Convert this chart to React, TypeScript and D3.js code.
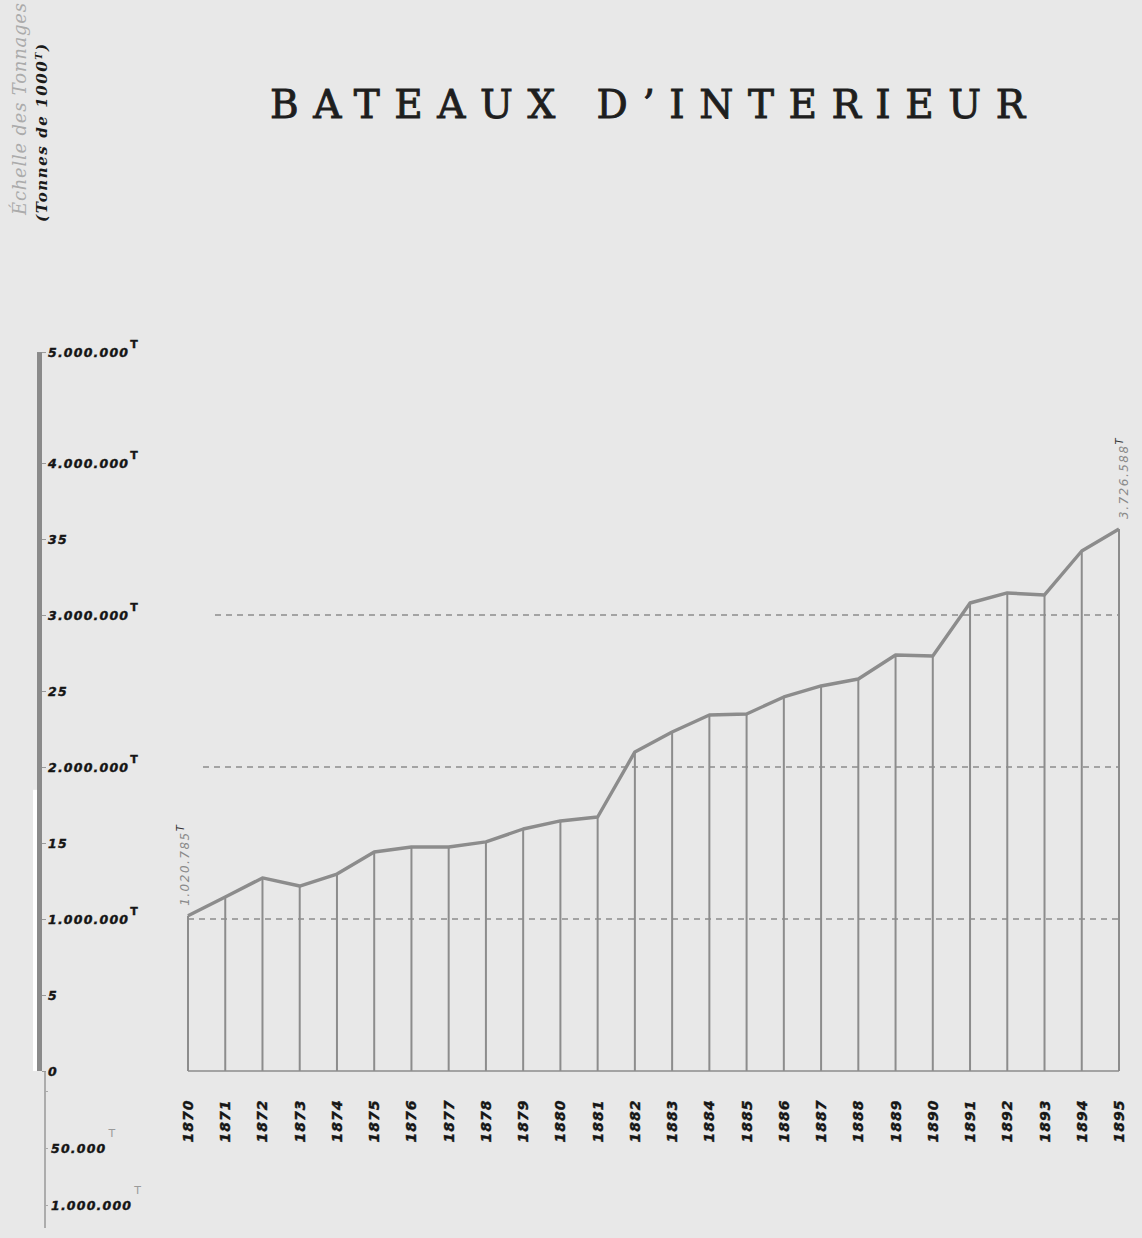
import React, { useEffect, useRef } from "react";
import * as d3 from "d3";

// Tonnage of inland boats (tonnes)
const years = [
  "1870", "1871", "1872", "1873", "1874", "1875", "1876", "1877", "1878",
  "1879", "1880", "1881", "1882", "1883", "1884", "1885", "1886", "1887",
  "1888", "1889", "1890", "1891", "1892", "1893", "1894", "1895",
];
const tonnage = [
  1020785, 1145000, 1270000, 1217000, 1296000, 1441000, 1474000, 1474000,
  1507000, 1592000, 1645000, 1671000, 2099000, 2230000, 2342000, 2349000,
  2461000, 2533000, 2579000, 2737000, 2730000, 3079000, 3145000, 3132000,
  3421000, 3566000,
];

// left scale ticks (the top one sits where the plate drew it)
const tickValues = [0, 500000, 1000000, 1500000, 2000000, 2500000, 3000000, 3500000, 4000000, 4730000];
const tickLabels = ["0", "5", "1.000.000", "15", "2.000.000", "25", "3.000.000", "35", "4.000.000", "5.000.000"];
const tickHasT = [false, false, true, false, true, false, true, false, true, true];

// small secondary scale below zero
const lowerLabels = ["", "50.000", "1.000.000"];

const guideValues = [1000000, 2000000, 3000000];
const firstLabel = "1.020.785";
const lastLabel = "3.726.588";

const W = 1142;
const H = 1238;

export default function App() {
  const svgRef = useRef<SVGSVGElement>(null);

  useEffect(() => {
    document.body.style.margin = "0";
    document.body.style.background = "#e8e8e8";

    const svg = d3.select(svgRef.current);
    svg.selectAll("*").remove();

    const x = d3.scalePoint().domain(years).range([188, 1119]);
    const y = d3.scaleLinear().domain([0, 1000000]).range([1071, 919]);

    const gray = "#8c8c8c";
    const ink = "#151515";

    svg.append("rect").attr("width", W).attr("height", H).attr("fill", "#e8e8e8");

    // title
    svg
      .append("text")
      .attr("x", 270)
      .attr("y", 118)
      .attr("textLength", 755)
      .attr("lengthAdjust", "spacing")
      .attr("font-family", "'DejaVu Serif', serif")
      .attr("font-size", 39)
      .attr("fill", "#1e1e1e")
      .attr("stroke", "#1e1e1e")
      .attr("stroke-width", 0.9)
      .text("BATEAUX  D\u2019INTERIEUR");

    // rotated scale title
    svg
      .append("text")
      .attr("transform", "translate(26,215) rotate(-90)")
      .attr("textLength", 212)
      .attr("font-family", "'DejaVu Serif', serif")
      .attr("font-style", "italic")
      .attr("font-size", 18)
      .attr("fill", "#ababab")
      .text("\u00c9chelle des Tonnages");
    svg
      .append("text")
      .attr("transform", "translate(47,222) rotate(-90)")
      .attr("textLength", 178)
      .attr("font-family", "'DejaVu Serif', serif")
      .attr("font-style", "italic")
      .attr("font-weight", "bold")
      .attr("font-size", 15)
      .attr("fill", "#1a1a1a")
      .text("(Tonnes de 1000\u1d40)");

    // left axis bar
    const topY = y(tickValues[tickValues.length - 1]);
    svg.append("rect").attr("x", 37).attr("y", topY).attr("width", 5).attr("height", y(0) - topY).attr("fill", "#8a8a8a");
    svg.append("rect").attr("x", 33).attr("y", y(1850000)).attr("width", 4).attr("height", y(0) - y(1850000)).attr("fill", "#ffffff");

    const labelStyle = (sel: any) =>
      sel
        .attr("font-family", "'DejaVu Sans', sans-serif")
        .attr("font-weight", "bold")
        .attr("font-style", "italic")
        .attr("font-size", 12.5)
        .attr("letter-spacing", 1.2)
        .attr("fill", ink)
        .attr("stroke", ink)
        .attr("stroke-width", 0.4);

    const axis = d3
      .axisRight(y)
      .tickValues(tickValues)
      .tickSize(4)
      .tickFormat((_, i) => tickLabels[i]);
    const gAxis = svg.append("g").attr("transform", "translate(42,0)").call(axis);
    gAxis.select(".domain").remove();
    gAxis.selectAll(".tick line").attr("stroke", "#999");
    labelStyle(gAxis.selectAll(".tick text").attr("x", 6));
    gAxis.selectAll(".tick text").each(function (_, i) {
      if (!tickHasT[i]) return;
      d3.select(this)
        .append("tspan")
        .attr("dx", 1)
        .attr("dy", -9)
        .attr("font-style", "normal")
        .attr("font-size", 11)
        .text("T");
    });

    // lower secondary scale
    const yl = d3.scalePoint().domain(lowerLabels).range([1091, 1205]);
    svg.append("line").attr("x1", 45).attr("x2", 45).attr("y1", y(0)).attr("y2", 1228).attr("stroke", "#999").attr("stroke-width", 1.5);
    const lowerAxis = d3.axisRight(yl).tickSize(3).tickPadding(3);
    const gLow = svg.append("g").attr("transform", "translate(45,0)").call(lowerAxis);
    gLow.select(".domain").remove();
    gLow.selectAll(".tick line").attr("stroke", "#aaa");
    labelStyle(gLow.selectAll(".tick text"));
    gLow.selectAll(".tick text").each(function (_, i) {
      if (i === 0) return;
      d3.select(this)
        .append("tspan")
        .attr("dx", 2)
        .attr("dy", -16)
        .attr("font-style", "normal")
        .attr("font-weight", "normal")
        .attr("font-size", 11)
        .attr("fill", "#9a9a9a")
        .attr("stroke", "none")
        .text("T");
    });

    // dashed guide lines
    const guideStart = [188, 203, 215];
    svg
      .selectAll("line.guide")
      .data(guideValues)
      .join("line")
      .attr("class", "guide")
      .attr("x1", (_, i) => guideStart[i])
      .attr("x2", 1119)
      .attr("y1", (d) => y(d))
      .attr("y2", (d) => y(d))
      .attr("stroke", gray)
      .attr("stroke-width", 1.6)
      .attr("stroke-dasharray", "6,5");

    // vertical year lines
    svg
      .selectAll("line.year")
      .data(years)
      .join("line")
      .attr("class", "year")
      .attr("x1", (d) => x(d)!)
      .attr("x2", (d) => x(d)!)
      .attr("y1", (_, i) => y(tonnage[i]))
      .attr("y2", y(0))
      .attr("stroke", gray)
      .attr("stroke-width", 2);

    // baseline
    svg.append("line").attr("x1", x(years[0])!).attr("x2", x(years[years.length - 1])!).attr("y1", y(0)).attr("y2", y(0)).attr("stroke", gray).attr("stroke-width", 1.6);

    // tonnage curve
    const line = d3
      .line<number>()
      .x((_, i) => x(years[i])!)
      .y((d) => y(d));
    svg
      .append("path")
      .datum(tonnage)
      .attr("d", line)
      .attr("fill", "none")
      .attr("stroke", gray)
      .attr("stroke-width", 3.4)
      .attr("stroke-linejoin", "round");

    // end annotations
    const ann = (xv: number, yv: number, label: string) => {
      const t = svg
        .append("text")
        .attr("transform", `translate(${xv},${yv}) rotate(-90)`)
        .attr("font-family", "'DejaVu Sans', sans-serif")
        .attr("font-style", "italic")
        .attr("font-size", 12)
        .attr("fill", "#8a8a8a")
        .attr("letter-spacing", 1.5);
      t.append("tspan").text(label);
      t.append("tspan").attr("dy", -5).attr("font-size", 10).attr("fill", "#333").text("T");
    };
    ann(x(years[0])! + 1, y(tonnage[0]) - 10, firstLabel);
    ann(x(years[years.length - 1])! + 9, y(tonnage[tonnage.length - 1]) - 10, lastLabel);

    // year labels
    svg
      .selectAll("text.yr")
      .data(years)
      .join("text")
      .attr("class", "yr")
      .attr("transform", (d) => `translate(${x(d)! + 5},1121) rotate(-90)`)
      .attr("text-anchor", "middle")
      .attr("font-family", "'DejaVu Sans', sans-serif")
      .attr("font-weight", "bold")
      .attr("font-style", "italic")
      .attr("font-size", 14)
      .attr("letter-spacing", 1)
      .attr("fill", ink)
      .attr("stroke", ink)
      .attr("stroke-width", 0.4)
      .text((d) => d);
  }, []);

  return <svg ref={svgRef} width={W} height={H} style={{ display: "block" }} />;
}
